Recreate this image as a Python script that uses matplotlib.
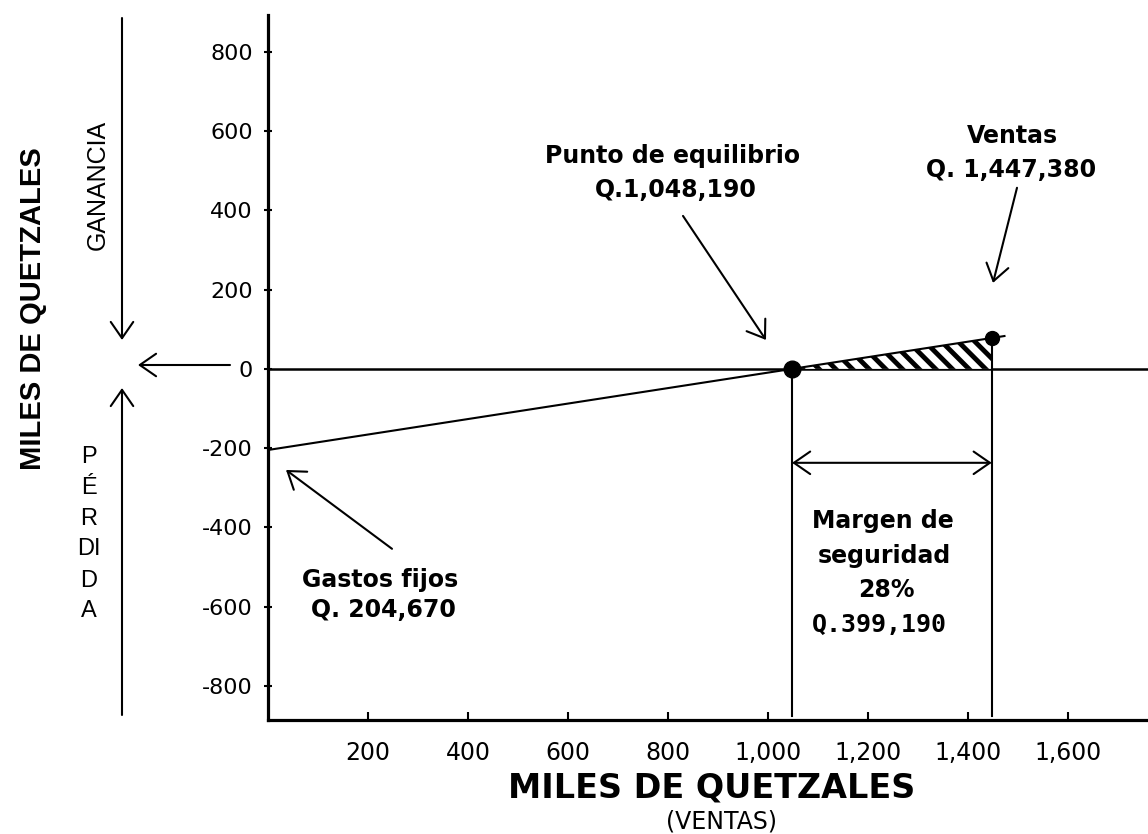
import matplotlib
matplotlib.use("Agg")
import matplotlib.pyplot as plt
from matplotlib.patches import FancyArrowPatch
import numpy as np

# ---- data (miles de quetzales) ----
fixed_costs = 204.67
breakeven = 1048.19
sales = 1447.38
margin_value = 399.19
margin_pct = 28
line_end = 1475
x_ticks = [200, 400, 600, 800, 1000, 1200, 1400, 1600]
x_tick_labels = ["200", "400", "600", "800", "1,000", "1,200", "1,400", "1,600"]
y_ticks = [-800, -600, -400, -200, 0, 200, 400, 600, 800]
y_tick_labels = ["-800", "-600", "-400", "-200", "0", "200", "400", "600", "800"]

plt.rcParams['hatch.linewidth'] = 3.5
W, H = 1148, 834
fig = plt.figure(figsize=(W / 100, H / 100), dpi=100)
ax = fig.add_axes([268 / W, 1 - 720 / H, 1 - 268 / W, (720 - 15) / H])
ax.set_xlim(0, 1760)
ax.set_ylim(-886, 893)

def P(x, y):
    """figure fraction from reference pixel coords (top-left origin)"""
    return (x / W, 1 - y / H)

slope = fixed_costs / breakeven
def result(x):
    return -fixed_costs + slope * np.asarray(x)

# zero line
ax.axhline(0, color='black', lw=1.8, zorder=2)
# result line
xl = np.array([0, line_end])
ax.plot(xl, result(xl), color='black', lw=1.5, zorder=3, solid_capstyle='butt')
# hatched triangle
xf = np.array([breakeven, sales])
ax.fill_between(xf, 0, result(xf), facecolor='white', edgecolor='black',
                hatch='\\\\', lw=0, zorder=2)
# vertical lines
ax.plot([breakeven, breakeven], [0, -875], color='black', lw=1.5, zorder=3)
ax.plot([sales, sales], [result(sales), -875], color='black', lw=1.5, zorder=3)
# points
ax.plot([breakeven], [0], 'o', color='black', ms=12, zorder=5)
ax.plot([sales], [result(sales)], 'o', color='black', ms=10, zorder=5)

# spines & ticks
for s in ['top', 'right']:
    ax.spines[s].set_visible(False)
ax.spines['left'].set_linewidth(2.3)
ax.spines['bottom'].set_linewidth(2.3)
ax.set_xticks(x_ticks)
ax.set_xticklabels(x_tick_labels, fontsize=17, family='DejaVu Sans')
ax.set_yticks(y_ticks)
ax.set_yticklabels(y_tick_labels, fontsize=16, family='DejaVu Sans')
ax.tick_params(axis='x', direction='in', length=6, width=1.5, pad=15)
ax.tick_params(axis='y', direction='inout', length=6, width=1.5, pad=8)

# x label
fig.text(*P(712, 797), "MILES DE QUETZALES", ha='center', va='baseline',
         fontsize=24, fontweight='bold', family='DejaVu Sans')
fig.text(*P(721, 829), "(VENTAS)", ha='center', va='baseline',
         fontsize=17, family='DejaVu Sans')
# y label
fig.text(*P(33, 309), "MILES DE QUETZALES", ha='center', va='center', rotation=90,
         fontsize=21, fontweight='bold', family='Liberation Sans')
fig.text(*P(98, 185), "GANANCIA", ha='center', va='center', rotation=90,
         fontsize=18, family='Liberation Sans')
for letter, yy in zip(["P", "É", "R", "DI", "D", "A"], [463, 494, 525, 555, 587, 617]):
    fig.text(*P(89, yy), letter, ha='center', va='baseline', fontsize=17,
             family='Liberation Sans')

# arrows
astyle = '->,head_length=0.65,head_width=0.45'
aprops = dict(arrowstyle=astyle, lw=1.5, color='black',
              shrinkA=0, shrinkB=0, mutation_scale=18)
def fig_arrow(x0, y0, x1, y1):
    fig.add_artist(FancyArrowPatch(P(x0, y0), P(x1, y1),
                                   transform=fig.transFigure, **aprops))
fig_arrow(122, 18, 122, 340)
fig_arrow(122, 715, 122, 388)
fig_arrow(230, 365, 138, 365)

# annotations
bold = dict(fontsize=17, fontweight='bold', family='DejaVu Sans', ha='center', va='baseline')
ax.text(810, 520, "Punto de equilibrio", **bold)
ax.text(816, 434, "Q.1,048,190", **bold)
ax.annotate("", xy=(996, 73), xytext=(830, 386), arrowprops=aprops)
ax.text(1488, 570, "Ventas", **bold)
ax.text(1486, 485, "Q. 1,447,380", **bold)
ax.annotate("", xy=(1450, 217), xytext=(1498, 457), arrowprops=aprops)
ax.annotate("", xy=(breakeven, -237), xytext=(sales, -237),
            arrowprops=dict(arrowstyle='<->,head_length=0.65,head_width=0.45', lw=1.5,
                            color='black', shrinkA=0, shrinkB=0, mutation_scale=18))
ax.text(1230, -401, "Margen de", **bold)
ax.text(1232, -490, "seguridad", **bold)
ax.text(1236, -575, f"{margin_pct}%", **bold)
ax.text(1222, -664, "Q.399,190", fontsize=18, fontweight='bold', family='DejaVu Sans Mono',
        ha='center', va='baseline')
ax.text(224, -550, "Gastos fijos", **bold)
ax.text(230, -626, "Q. 204,670", **bold)
ax.annotate("", xy=(36, -255), xytext=(248, -454), arrowprops=aprops)

fig.savefig("out.png", dpi=100)
